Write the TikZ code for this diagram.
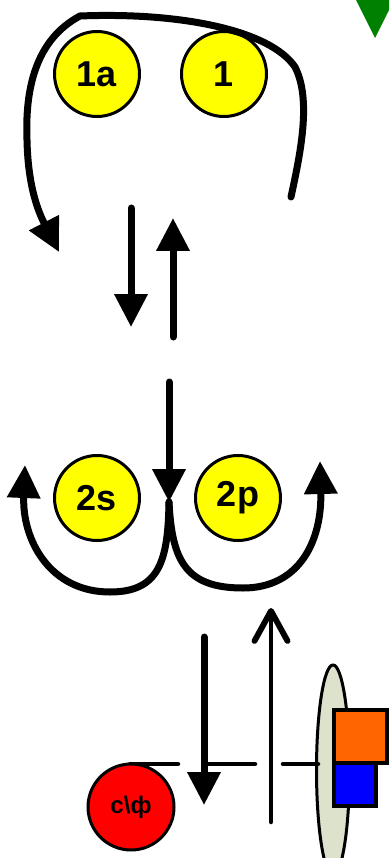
\documentclass[tikz,border=0pt]{standalone}
\usepackage{fontspec}
\setmainfont{Liberation Sans}
\usetikzlibrary{arrows.meta}

\definecolor{orbyellow}{RGB}{255,255,0}
\definecolor{ringgrey}{RGB}{221,226,204}
\definecolor{boxorange}{RGB}{255,102,0}

\tikzset{
    orbital/.style={circle, draw=black, line width=3pt, fill=orbyellow,
        minimum size=85pt, inner sep=0pt, font=\fontsize{36}{40}\selectfont\bfseries},
    bigarrow/.style={line width=7pt, line cap=round,
        -{Triangle[width=32pt,length=33pt]}},
    thinarrow/.style={line width=4.5pt, line cap=round,
        -{Straight Barb[width=33pt,length=30pt,line width=0pt 1.3,round]}},
    membrane/.style={line width=4.5pt, line cap=round}
}

\begin{document}
\begin{tikzpicture}[x=1pt, y=-1pt]
        \useasboundingbox (0,0) rectangle (389,858);
        \clip (0,0) rectangle (389,858);

        % Orbitals
        \node[orbital] (n1a) at (97,74) {1a};
        \node[orbital] (n1) at (224,74) {1};
        \node[orbital] (n2s) at (97,498) {2s};
        \node[orbital] (n2p) at (238,498) {2p};

        % Green marker top right
        \fill[green!50!black] (356,0) -- (394,0) -- (375,38) -- cycle;

        % Big loop over the top
        \draw[bigarrow] (291,197) .. controls (300,155) and (312,100) .. (295,67)
            .. controls (270,30) and (180,12) .. (80,16)
            .. controls (35,40) and (25,90) .. (27,140)
            .. controls (28,190) and (40,215) .. (59,252);

        % Equilibrium arrows
        \coordinate (downA) at (131,208);
        \coordinate (downB) at (131,327);
        \coordinate (upA) at (173,337);
        \coordinate (upB) at (173,218);
        \draw[bigarrow] (downA) -- (downB);
        \draw[bigarrow] (upA) -- (upB);

        % Arrow into the split point
        \coordinate (split) at (169,502);
        \coordinate (splitTop) at (169,382);
        \draw[bigarrow] (splitTop) -- (split);

        % Two branches
        \draw[bigarrow] (split) .. controls (168,560) and (160,592) .. (110,592)
            .. controls (50,592) and (22,540) .. (25,465);
        \draw[bigarrow] (split) .. controls (172,560) and (185,588) .. (243,588)
            .. controls (300,588) and (322,540) .. (320,461);

        % Membrane with pore
        \draw[fill=ringgrey, line width=3pt] (333,770) ellipse (16.5pt and 105pt);
        \coordinate (mA) at (130,764);
        \coordinate (mB) at (178,764);
        \coordinate (mC) at (207,764);
        \coordinate (mD) at (255,764);
        \coordinate (mE) at (283,764);
        \coordinate (mF) at (318,764);
        \draw[membrane] (mA) -- (mB);
        \draw[membrane] (mC) -- (mD);
        \draw[membrane] (mE) -- (mF);

        % Boxes on the pore
        \draw[fill=boxorange, line width=4pt] (334,710) rectangle (387,763);
        \draw[fill=blue, line width=4pt] (334,763) rectangle (376,806);

        % Transport arrows
        \coordinate (outA) at (204,637);
        \coordinate (outB) at (204,805);
        \coordinate (inA) at (271,822);
        \coordinate (inB) at (271,608);
        \draw[bigarrow] (outA) -- (outB);
        \draw[thinarrow] (inA) -- (inB);

        % Red species
        \node[circle, draw=black, line width=3pt, fill=red, minimum size=86pt,
            inner sep=0pt, font=\fontsize{24}{26}\selectfont\bfseries] (cphi) at (131,807) {c\textbackslash ф};
\end{tikzpicture}
\end{document}
